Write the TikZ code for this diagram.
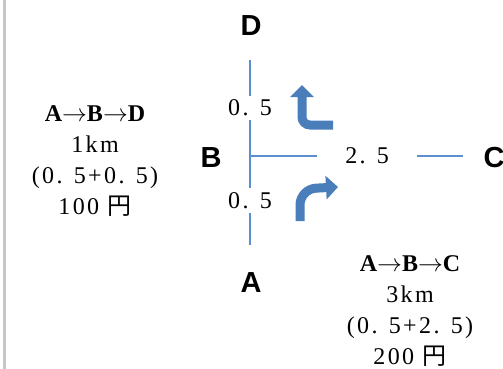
\documentclass[tikz,border=0pt]{standalone}
\usepackage{fontspec}
\setmainfont{Liberation Serif}
\newfontfamily\labelfont{Liberation Sans}
\newfontfamily\numfont[LetterSpace=10]{Liberation Serif}
\newfontfamily\jpfont{Noto Sans CJK JP}
\usetikzlibrary{arrows.meta}
\definecolor{roadblue}{HTML}{5B8FD0}
\definecolor{turnblue}{HTML}{4A7EBB}
\tikzset{
  place/.style={font=\labelfont\bfseries\fontsize{29}{29}\selectfont},
  dist/.style={fill=white, inner sep=4pt, font=\numfont\fontsize{24}{24}\selectfont},
  road/.style={draw=roadblue, line width=1.6pt},
  turn/.style={draw=turnblue, line width=9pt, -{Triangle[width=23pt,length=12pt]}},
  fare/.style={align=center, font=\numfont\fontsize{24}{31}\selectfont},
}
\newcommand{\route}[1]{{\rmfamily\bfseries #1}}

\begin{document}
\begin{tikzpicture}[x=1pt,y=-1pt]
  \useasboundingbox (0,0) rectangle (503,369);
  % frame on the left
  \draw[gray!45, line width=3pt] (4,0) -- (4,369);
  % Define nodes
  \node[place] (D) at (251,26) {D};
  \node[place] (B) at (211,158) {B};
  \node[place] (A) at (251,283) {A};
  \node[place] (C) at (494,158) {C};
  \coordinate (x) at (250,156);
  \coordinate (d) at (250,60);
  \coordinate (a) at (250,245);
  \coordinate (c) at (463,156);
  % Connect nodes
  \draw[road] (d) -- node[dist] (xd) {0. 5} (x) -- node[dist] (xa) {0. 5} (a);
  \draw[road] (x) -- node[dist, pos=0.55, inner xsep=28pt] (xc) {2. 5} (c);
  % turns
  \draw[turn, rounded corners=8pt] (333,125) -- (302,125) -- (302,85);
  \draw[turn, rounded corners=16pt] (300,221) -- (300,189) -- (338,187);
  % fares
  \node[fare] (toD) at (95,161) {\route{A$\rightarrow$B$\rightarrow$D}\\1km\\(0. 5+0. 5)\\100 {\jpfont 円}};
  \node[fare] (toC) at (410,311) {\route{A$\rightarrow$B$\rightarrow$C}\\3km\\(0. 5+2. 5)\\200 {\jpfont 円}};
\end{tikzpicture}
\end{document}
